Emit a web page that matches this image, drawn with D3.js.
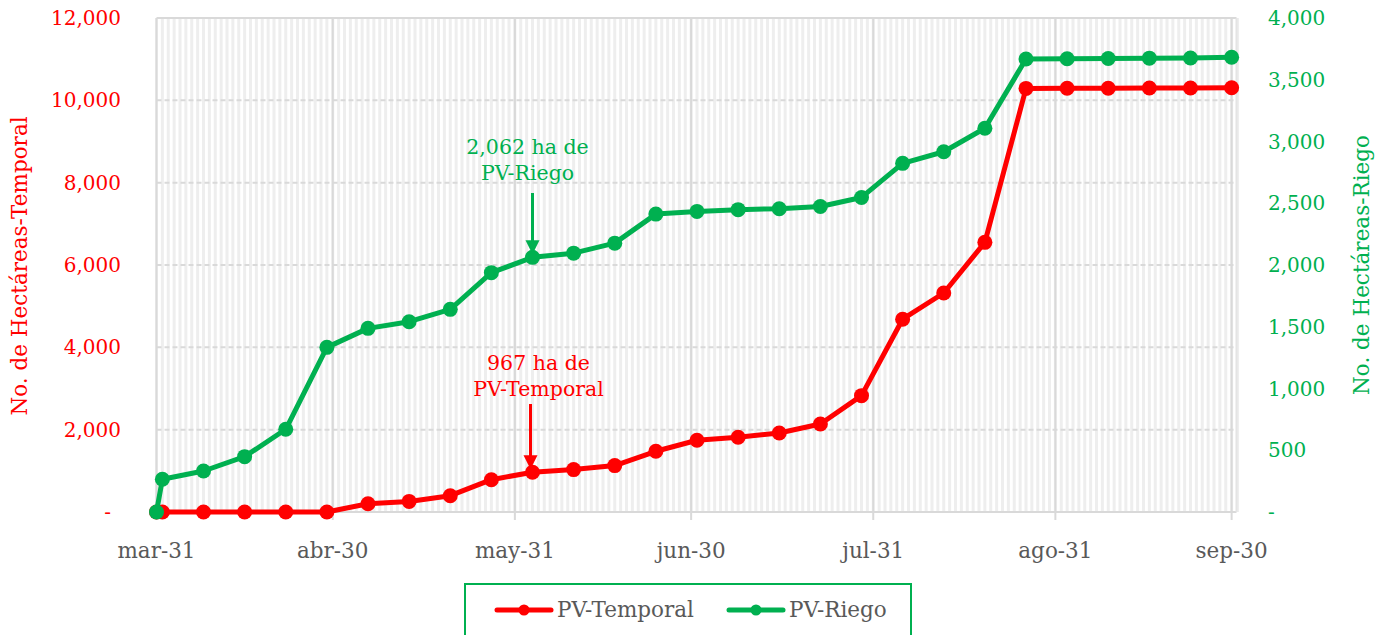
<!DOCTYPE html>
<html>
<head>
<meta charset="utf-8">
<script src="https://cdn.jsdelivr.net/npm/d3@7"></script>
<style>
body{margin:0;background:#fff;}
svg{display:block;font-family:"DejaVu Serif",serif;}
</style>
</head>
<body>
<svg id="chart" width="1381" height="635"></svg>
<script>
// fechas semanales (el primer punto es el arranque en cero)
var fechas=["2021-03-31","2021-04-01","2021-04-08","2021-04-15","2021-04-22","2021-04-29","2021-05-06","2021-05-13",
    "2021-05-20","2021-05-27","2021-06-03","2021-06-10","2021-06-17","2021-06-24","2021-07-01","2021-07-08",
    "2021-07-15","2021-07-22","2021-07-29","2021-08-05","2021-08-12","2021-08-19","2021-08-26","2021-09-02",
    "2021-09-09","2021-09-16","2021-09-23","2021-09-30"];
var temporal=[0,0,0,0,0,0,200,257,396,785,967,1030,1127,1475,1742,1815,1920,2138,2826,4683,5320,6550,10290,10295,10295,10300,10300,10305];
var riego=[0,265,332,448,670,1333,1487,1541,1641,1938,2062,2096,2177,2412,2434,2448,2456,2474,2547,2823,2917,3107,3668,3670,3672,3675,3676,3682];

var xTickFechas=["2021-03-31","2021-04-30","2021-05-31","2021-06-30","2021-07-31","2021-08-31","2021-09-30"];
var xTickLabels=["mar-31","abr-30","may-31","jun-30","jul-31","ago-31","sep-30"];
var yIzqTicks=[0,2000,4000,6000,8000,10000,12000];
var yDerTicks=[0,500,1000,1500,2000,2500,3000,3500,4000];

var rojo="#ff0000",verde="#00b050",gris="#595959";
var parse=d3.utcParse("%Y-%m-%d");

var svg=d3.select("#chart");
var x=d3.scaleUtc().domain([parse("2021-03-31"),parse("2021-10-01")]).range([156.5,1237.5]);
var yL=d3.scaleLinear().domain([0,12000]).range([512,18]);
var yR=d3.scaleLinear().domain([0,4000]).range([512,18]);
var x0=x.range()[0],x1=x.range()[1]-1;

var fmt=function(v){return v==0?"-":d3.format(",")(v);};

// rejilla diaria
svg.append("g").selectAll("line")
    .data(d3.utcDay.range(parse("2021-03-31"),parse("2021-10-02")))
    .enter().append("line")
    .attr("x1",function(d){return x(d);}).attr("x2",function(d){return x(d);})
    .attr("y1",18).attr("y2",512)
    .attr("stroke","#eeeeee").attr("stroke-width",3);

// rejilla horizontal
svg.append("g").selectAll("line")
    .data(yIzqTicks.slice(1,-1))
    .enter().append("line")
    .attr("x1",x0).attr("x2",x1)
    .attr("y1",function(d){return yL(d);}).attr("y2",function(d){return yL(d);})
    .attr("stroke","#d9d9d9").attr("stroke-width",2).attr("stroke-dasharray","5,3");

// rejilla mensual
svg.append("g").selectAll("line")
    .data(xTickFechas)
    .enter().append("line")
    .attr("x1",function(d){return x(parse(d));}).attr("x2",function(d){return x(parse(d));})
    .attr("y1",18).attr("y2",520)
    .attr("stroke","#d9d9d9").attr("stroke-width",2);

svg.append("line").attr("x1",x0).attr("x2",x1).attr("y1",18).attr("y2",18)
    .attr("stroke","#d9d9d9").attr("stroke-width",2);
svg.append("line").attr("x1",x0).attr("x2",x1).attr("y1",512).attr("y2",512)
    .attr("stroke","#d9d9d9").attr("stroke-width",2);
svg.append("line").attr("x1",x1).attr("x2",x1).attr("y1",18).attr("y2",512)
    .attr("stroke","#e4e4e4").attr("stroke-width",2);

// etiquetas eje x
svg.append("g").selectAll("text")
    .data(xTickFechas)
    .enter().append("text")
    .attr("x",function(d){return x(parse(d));})
    .attr("y",558)
    .attr("text-anchor","middle")
    .attr("font-size",21.5).attr("fill",gris)
    .text(function(d,i){return xTickLabels[i];});

// eje izquierdo
svg.append("g").selectAll("text")
    .data(yIzqTicks)
    .enter().append("text")
    .attr("x",function(d){return d==0?111:121;})
    .attr("y",function(d){return yL(d)+7;})
    .attr("text-anchor","end")
    .attr("font-size",20).attr("fill",rojo)
    .text(fmt);

// eje derecho
svg.append("g").selectAll("text")
    .data(yDerTicks)
    .enter().append("text")
    .attr("x",1268)
    .attr("y",function(d){return yR(d)+7;})
    .attr("font-size",20).attr("fill",verde)
    .text(fmt);

svg.append("text")
    .attr("transform","translate(27,266) rotate(-90)")
    .attr("text-anchor","middle").attr("font-size",21.5).attr("fill",rojo)
    .text("No. de Hectáreas-Temporal");
svg.append("text")
    .attr("transform","translate(1369,265) rotate(-90)")
    .attr("text-anchor","middle").attr("font-size",21.5).attr("fill",verde)
    .text("No. de Hectáreas-Riego");

// series
var lineaL=d3.line().x(function(d,i){return x(parse(fechas[i]));}).y(function(d){return yL(d);});
var lineaR=d3.line().x(function(d,i){return x(parse(fechas[i]));}).y(function(d){return yR(d);});

function serie(datos,linea,escala,color){
    svg.append("path").datum(datos)
        .attr("d",linea).attr("fill","none")
        .attr("stroke",color).attr("stroke-width",5).attr("stroke-linejoin","round");
    svg.append("g").selectAll("circle")
        .data(datos).enter().append("circle")
        .attr("cx",function(d,i){return x(parse(fechas[i]));})
        .attr("cy",function(d){return escala(d);})
        .attr("r",7.5).attr("fill",color);
}
serie(temporal,lineaL,yL,rojo);
serie(riego,lineaR,yR,verde);

// anotaciones
function flecha(xp,y1,y2,color){
    svg.append("line").attr("x1",xp).attr("x2",xp).attr("y1",y1).attr("y2",y2-12)
        .attr("stroke",color).attr("stroke-width",3);
    svg.append("path")
        .attr("d","M"+(xp-7)+","+(y2-14)+"L"+(xp+7)+","+(y2-14)+"L"+xp+","+y2+"Z")
        .attr("fill",color);
}
var xAnot=x(parse(fechas[10]));
svg.append("text").attr("x",xAnot-5).attr("y",154).attr("text-anchor","middle")
    .attr("font-size",20.5).attr("fill",verde).text("2,062 ha de");
svg.append("text").attr("x",xAnot-5).attr("y",180).attr("text-anchor","middle")
    .attr("font-size",20.5).attr("fill",verde).text("PV-Riego");
flecha(xAnot,193,yR(2062)-3,verde);

svg.append("text").attr("x",xAnot+6).attr("y",370).attr("text-anchor","middle")
    .attr("font-size",20.5).attr("fill",rojo).text("967 ha de");
svg.append("text").attr("x",xAnot+6).attr("y",396).attr("text-anchor","middle")
    .attr("font-size",20.5).attr("fill",rojo).text("PV-Temporal");
flecha(xAnot-2,404,yL(967)-3,rojo);

// leyenda
svg.append("rect").attr("x",465).attr("y",584).attr("width",446).attr("height",60)
    .attr("fill","#fff").attr("stroke",verde).attr("stroke-width",2);
var leyenda=[{t:"PV-Temporal",c:rojo,x:497},{t:"PV-Riego",c:verde,x:729}];
var li=svg.append("g").selectAll("g").data(leyenda).enter().append("g");
li.append("line").attr("x1",function(d){return d.x;}).attr("x2",function(d){return d.x+54;})
    .attr("y1",610).attr("y2",610).attr("stroke",function(d){return d.c;})
    .attr("stroke-width",5).attr("stroke-linecap","round");
li.append("circle").attr("cx",function(d){return d.x+27;}).attr("cy",610).attr("r",5.5)
    .attr("fill",function(d){return d.c;});
li.append("text").attr("x",function(d){return d.x+60;}).attr("y",617)
    .attr("font-size",21.5).attr("fill",gris).text(function(d){return d.t;});
</script>
</body>
</html>
